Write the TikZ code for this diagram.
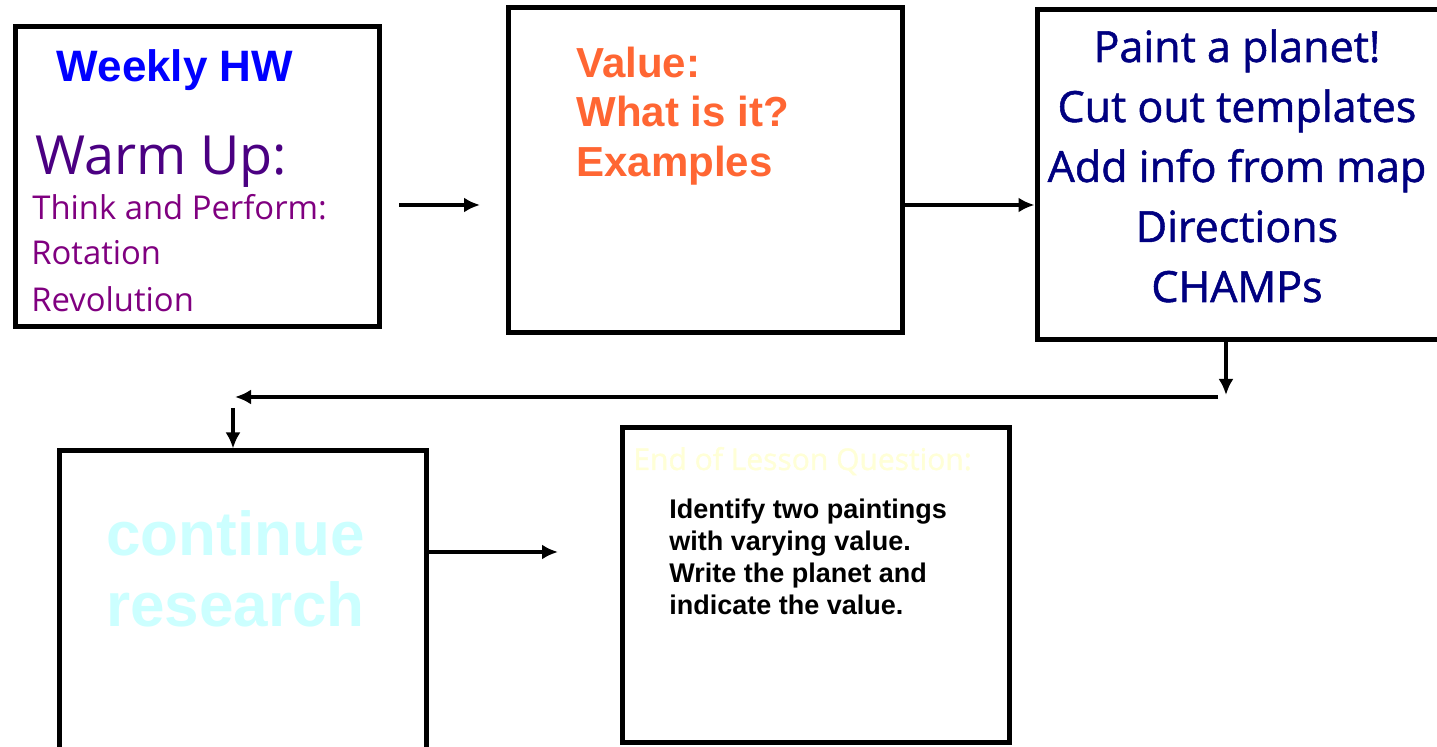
\documentclass[tikz,border=0pt]{standalone}
\usepackage{fontspec}
\setmainfont{Liberation Sans}
\newfontfamily\comic{Open Sans}
\newfontfamily\comicb[FakeBold=1.2]{Open Sans}
\usetikzlibrary{arrows.meta}
\definecolor{hwblue}{RGB}{0,0,255}
\definecolor{warm}{RGB}{75,0,130}
\definecolor{think}{RGB}{128,0,128}
\definecolor{orangev}{RGB}{255,102,51}
\definecolor{navyc}{RGB}{0,0,128}
\definecolor{cyanl}{RGB}{204,255,255}
\definecolor{yellowl}{RGB}{255,255,215}
\begin{document}
\begin{tikzpicture}[x=0.5pt,y=-0.5pt,
  box/.style={draw=black,line width=2.5pt,fill=white,inner sep=0pt},
  arr/.style={line width=2pt,-{Latex[length=8pt,width=7.5pt]}},
  txt/.style={inner sep=0pt,anchor=base west},
  ctxt/.style={inner sep=0pt,anchor=base}]
\useasboundingbox (0,0) rectangle (1437,747);
\fill[white] (0,0) rectangle (1437,747);
% boxes
\node[box,minimum width=182pt,minimum height=150pt] (b1) at (197,177) {};
\node[box,minimum width=197pt,minimum height=162.5pt] (b2) at (705,170.5) {};
\node[box,minimum width=204pt,minimum height=165pt] (b3) at (1241,175) {};
\node[box,minimum width=183.5pt,minimum height=174.5pt] (b4) at (242.5,625.5) {};
\node[box,minimum width=193.5pt,minimum height=157.5pt] (b5) at (815.5,585.5) {};
% box 1 text
\node[ctxt,font=\bfseries\fontsize{22}{26}\selectfont,text=hwblue] (t1) at (175,82) {Weekly HW};
\node[txt,font=\comic\fontsize{27}{30}\selectfont,text=warm] (t2) at (35,175) {Warm Up:};
\node[txt,font=\comic\fontsize{16.4}{20}\selectfont,text=think] (t3) at (32,220) {Think and Perform:};
\node[txt,font=\comic\fontsize{16.4}{20}\selectfont,text=think] (t4) at (31,265) {Rotation};
\node[txt,font=\comic\fontsize{16.4}{20}\selectfont,text=think] (t5) at (31,312) {Revolution};
% box 2 text
\node[txt,font=\bfseries\fontsize{21}{25}\selectfont,text=orangev] (v1) at (576,78) {Value:};
\node[txt,font=\bfseries\fontsize{21}{25}\selectfont,text=orangev] (v2) at (576,127) {What is it?};
\node[txt,font=\bfseries\fontsize{21}{25}\selectfont,text=orangev] (v3) at (576,177) {Examples};
% box 3 text
\node[ctxt,font=\comicb\fontsize{21.5}{25}\selectfont,text=navyc] (p1) at (1237,62) {Paint a planet!};
\node[ctxt,font=\comicb\fontsize{21.5}{25}\selectfont,text=navyc] (p2) at (1237,122) {Cut out templates};
\node[ctxt,font=\comicb\fontsize{21.5}{25}\selectfont,text=navyc] (p3) at (1237,182) {Add info from map};
\node[ctxt,font=\comicb\fontsize{21.5}{25}\selectfont,text=navyc] (p4) at (1237,242) {Directions};
\node[ctxt,font=\comicb\fontsize{21.5}{25}\selectfont,text=navyc] (p5) at (1237,302) {CHAMPs};
% box 4 text
\node[txt,font=\bfseries\fontsize{31}{35}\selectfont,text=cyanl] (r1) at (106,556) {continue};
\node[txt,font=\bfseries\fontsize{31}{35}\selectfont,text=cyanl] (r2) at (106,627) {research};
% box 5 text
\node[txt,font=\comicb\fontsize{15}{18}\selectfont,text=yellowl] (e0) at (633,470) {End of Lesson Question:};
\node[txt,font=\bfseries\fontsize{13.5}{16}\selectfont] (e1) at (669,519) {Identify two paintings};
\node[txt,font=\bfseries\fontsize{13.5}{16}\selectfont] (e2) at (669,551) {with varying value.};
\node[txt,font=\bfseries\fontsize{13.5}{16}\selectfont] (e3) at (669,583) {Write the planet and};
\node[txt,font=\bfseries\fontsize{13.5}{16}\selectfont] (e4) at (669,615) {indicate the value.};
% connectors
\coordinate (a1s) at (399,205);
\coordinate (a1e) at (480,205);
\coordinate (c3) at (1226,395);
\coordinate (c4s) at (1218,397);
\coordinate (c4e) at (235,397);
\coordinate (c5) at (233,408);
\coordinate (c6) at (558,552);
\draw[arr] (a1s) -- (a1e);
\draw[arr] (b2.east |- a1s) -- (b3.west |- a1s);
\draw[arr] (b3.south -| c3) -- (c3);
\draw[arr] (c4s) -- (c4e);
\draw[arr] (c5) -- (c5 |- b4.north);
\draw[arr] (b4.east |- c6) -- (c6);
\end{tikzpicture}
\end{document}
